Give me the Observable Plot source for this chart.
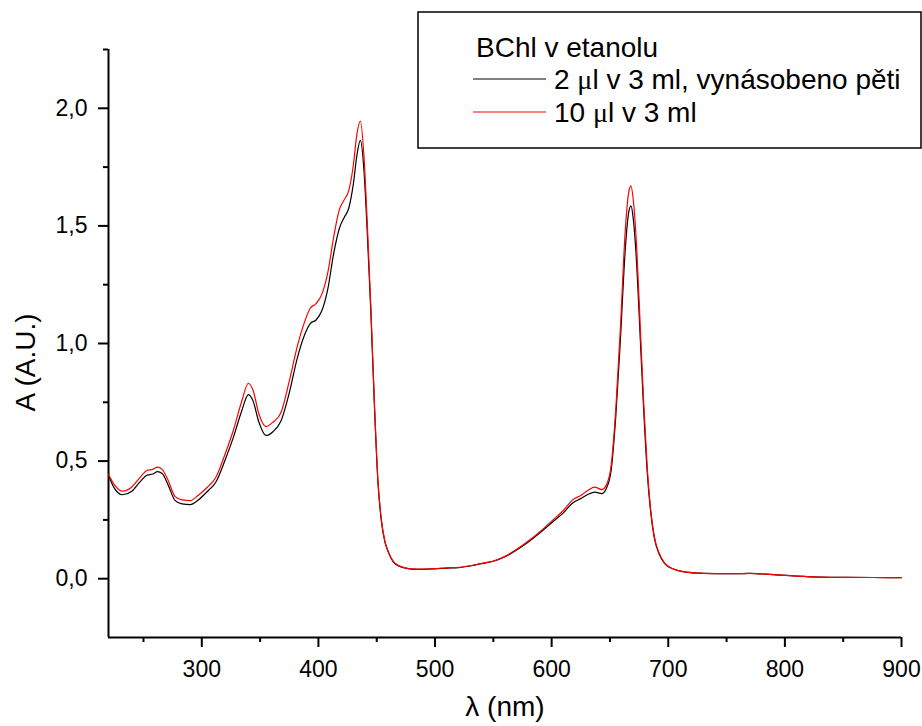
<!DOCTYPE html>
<html>
<head>
<meta charset="utf-8">
<script src="https://cdn.jsdelivr.net/npm/d3@7"></script>
<script src="https://cdn.jsdelivr.net/npm/@observablehq/plot@0.6"></script>
<style>
  html, body { margin: 0; padding: 0; background: #fff; }
  #chart { position: relative; width: 922px; height: 726px; }
</style>
</head>
<body>
<div id="chart"></div>
<script>
// ---- data ----
const wavelengths = [220,225,232,240,247,253,258,262,266,271,277,283,290,297,305,312,320,327,334,340,344,349,355,361,368,375,382,388,393,398,403,408,413,418,422,426,430,433,436,439,442,445,448,451,454,457,460,464,468,473,480,490,500,510,520,530,540,550,560,570,580,590,600,610,618,625,631,637,643,647,651,655,659,663,666,668,670,673,676,679,682,685,688,692,697,704,715,730,750,770,790,810,830,850,875,900];
const seriesRed = [0.443,0.40,0.372,0.39,0.43,0.46,0.465,0.474,0.465,0.42,0.35,0.335,0.332,0.355,0.39,0.43,0.53,0.63,0.75,0.831,0.80,0.70,0.647,0.665,0.708,0.84,0.99,1.09,1.15,1.17,1.21,1.30,1.45,1.57,1.61,1.65,1.76,1.89,1.946,1.80,1.50,1.15,0.75,0.42,0.25,0.16,0.115,0.075,0.058,0.048,0.042,0.041,0.043,0.046,0.048,0.055,0.065,0.075,0.095,0.125,0.16,0.20,0.245,0.29,0.335,0.354,0.375,0.389,0.379,0.40,0.48,0.72,1.07,1.47,1.64,1.67,1.61,1.40,1.07,0.74,0.47,0.29,0.18,0.11,0.065,0.042,0.028,0.023,0.021,0.023,0.017,0.011,0.007,0.006,0.005,0.004];
const seriesBlack = [0.44,0.385,0.357,0.372,0.412,0.44,0.445,0.455,0.447,0.40,0.333,0.318,0.315,0.335,0.372,0.41,0.505,0.60,0.71,0.783,0.755,0.665,0.609,0.625,0.672,0.79,0.94,1.035,1.085,1.10,1.14,1.23,1.38,1.49,1.535,1.575,1.68,1.80,1.864,1.74,1.46,1.13,0.74,0.415,0.245,0.157,0.112,0.073,0.056,0.047,0.041,0.040,0.042,0.045,0.047,0.054,0.064,0.074,0.093,0.122,0.156,0.195,0.238,0.28,0.322,0.341,0.358,0.368,0.362,0.385,0.46,0.69,1.02,1.39,1.555,1.585,1.53,1.33,1.02,0.71,0.45,0.28,0.175,0.107,0.064,0.042,0.028,0.023,0.021,0.023,0.017,0.011,0.007,0.006,0.005,0.004];
const seriesNames = ["2 μl v 3 ml, vynásobeno pěti", "10 μl v 3 ml"];
const seriesColors = ["#000000", "#ff0000"];
const legendTitle = "BChl v etanolu";
const xMajorTicks = [300,400,500,600,700,800,900];
const xMinorTicks = [250,350,450,550,650,750,850];
const yMajorTicks = [0,0.5,1.0,1.5,2.0];
const yMinorTicks = [0.25,0.75,1.25,1.75,2.25];
const xLabel = "λ (nm)";
const yLabel = "A (A.U.)";

const rows = [];
wavelengths.forEach((w, i) => {
  rows.push({wl: w, a: seriesBlack[i], s: seriesNames[0]});
});
wavelengths.forEach((w, i) => {
  rows.push({wl: w, a: seriesRed[i], s: seriesNames[1]});
});

const font = "'Liberation Sans', Arial, sans-serif";
const fmtY = d => d.toFixed(1).replace(".", ",");

const plot = Plot.plot({
  width: 922,
  height: 726,
  marginLeft: 108,
  marginRight: 21,
  marginTop: 49,
  marginBottom: 89,
  style: {fontFamily: font, fontSize: "23px", color: "#000", background: "#fff", overflow: "visible"},
  x: {domain: [220, 900], axis: null},
  y: {domain: [-0.25, 2.25], axis: null},
  color: {domain: seriesNames, range: seriesColors},
  marks: [
    Plot.axisX({ticks: xMinorTicks, tickSize: 5, strokeWidth: 2, tickFormat: () => "", label: null}),
    Plot.axisX({ticks: xMajorTicks, tickSize: 10, tickPadding: 13, strokeWidth: 2, fontSize: 23, tickFormat: d => String(d), label: null}),
    Plot.axisY({ticks: yMinorTicks, tickSize: 5, strokeWidth: 2, tickFormat: () => "", label: null}),
    Plot.axisY({ticks: yMajorTicks, tickSize: 10, tickPadding: 11, strokeWidth: 2, fontSize: 23, tickFormat: fmtY, label: null}),
    Plot.ruleX([220], {strokeWidth: 2}),
    Plot.ruleY([-0.25], {strokeWidth: 2}),
    Plot.line(rows, {x: "wl", y: "a", z: "s", stroke: "s", strokeWidth: 1.2, curve: "monotone-x"}),
    Plot.text([xLabel], {frameAnchor: "bottom", dy: 70, lineAnchor: "middle", fontSize: 28, fontFamily: font}),
    Plot.text([yLabel], {frameAnchor: "left", rotate: -90, dx: -82, dy: 19, lineAnchor: "middle", textAnchor: "middle", fontSize: 28, fontFamily: font})
  ]
});

document.getElementById("chart").appendChild(plot);

const svg = d3.select(plot);

// legend (inside the plot area, like the reference)
const lg = svg.append("g").attr("font-family", font).attr("font-size", 28)
  .attr("fill", "#000").attr("text-anchor", "start");
lg.append("rect").attr("x", 418).attr("y", 12).attr("width", 503).attr("height", 136)
  .attr("fill", "#fff").attr("stroke", "#000").attr("stroke-width", 1.5);
lg.append("text").attr("x", 476).attr("y", 57).attr("text-anchor", "start").text(legendTitle);
const rowsY = [89, 122];
seriesNames.forEach((name, i) => {
  lg.append("line").attr("x1", 473).attr("x2", 546).attr("y1", rowsY[i] - 10).attr("y2", rowsY[i] - 10)
    .attr("stroke", seriesColors[i]).attr("stroke-width", 1.2);
  const t = lg.append("text").attr("x", 554).attr("y", rowsY[i]).attr("text-anchor", "start");
  name.split(/(μ)/).forEach(part => {
    if (!part) return;
    const sp = t.append("tspan").text(part);
    if (part === "μ") sp.attr("font-family", "'Liberation Serif', 'DejaVu Serif', serif");
  });
});
</script>
</body>
</html>
